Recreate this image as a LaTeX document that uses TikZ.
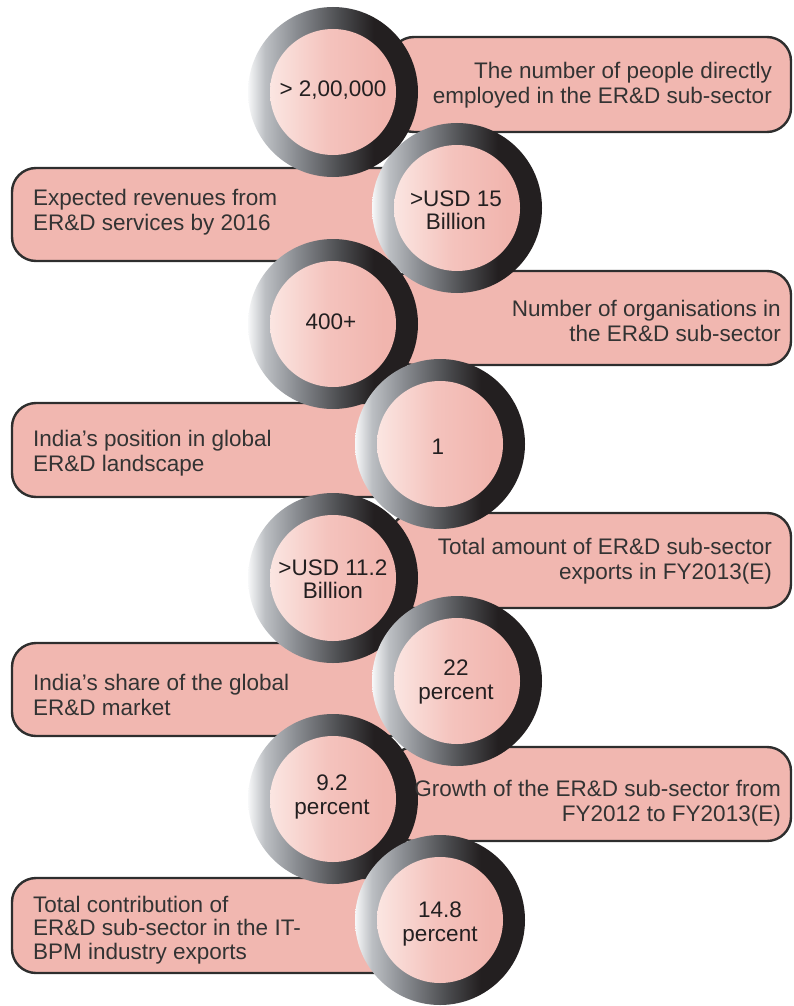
\documentclass[tikz,border=0pt]{standalone}
\usepackage{fontspec}
\setmainfont{Liberation Sans}

\definecolor{boxfill}{HTML}{F1B7B0}
\definecolor{boxline}{HTML}{2E2E2E}
\definecolor{boxtext}{HTML}{333333}
\definecolor{ringtext}{HTML}{231F20}
% ring metal gradient, light on the left, near black on the right
\definecolor{rg0}{HTML}{F7F8F9}
\definecolor{rg1}{HTML}{BCBFC3}
\definecolor{rg2}{HTML}{8A8D92}
\definecolor{rg3}{HTML}{4B4C4F}
\definecolor{rg4}{HTML}{231F20}
% pink core gradient
\definecolor{pk0}{HTML}{FBE6E2}
\definecolor{pk1}{HTML}{F4C3BD}
\definecolor{pk2}{HTML}{F1B5AE}

\pgfdeclarehorizontalshading{ringgrad}{100bp}{%
  color(0bp)=(rg0); color(25bp)=(rg0); color(30bp)=(rg1);
  color(39bp)=(rg2); color(52bp)=(rg3); color(62bp)=(rg4);
  color(100bp)=(rg4)}
\pgfdeclarehorizontalshading{pinkgrad}{100bp}{%
  color(0bp)=(pk0); color(25bp)=(pk0); color(48bp)=(pk1);
  color(70bp)=(pk2); color(100bp)=(pk2)}

\newcommand\infofont{\fontsize{22.5}{25}\selectfont}
\newcommand\ringfont{\fontsize{22.5}{23.5}\selectfont}

\begin{document}
\begin{tikzpicture}[x=1pt,y=-1pt,
  infobox/.style={draw=boxline, line width=2.4pt, fill=boxfill,
    rounded corners=24pt, inner sep=0pt},
  rightbox/.style={infobox, minimum width=401pt},
  leftbox/.style={infobox, minimum width=488pt},
  ring/.style={circle, inner sep=0pt, minimum size=170pt, shading=ringgrad},
  core/.style={circle, inner sep=0pt, minimum size=126pt, shading=pinkgrad},
  ringlabel/.style={align=center, text=ringtext, font=\ringfont, inner sep=0pt},
  rtxt/.style={anchor=east, align=right, text=boxtext, font=\infofont, inner sep=0pt},
  ltxt/.style={anchor=west, align=left, text=boxtext, font=\infofont, inner sep=0pt}]
\useasboundingbox (0,0) rectangle (793,1006);

% information boxes
\node[rightbox, minimum height=95pt] (b1) at (590.5,84.5) {};
\node[leftbox,  minimum height=93pt] (b2) at (256,214.5) {};
\node[rightbox, minimum height=94pt] (b3) at (590.5,318) {};
\node[leftbox,  minimum height=94pt] (b4) at (256,450) {};
\node[rightbox, minimum height=95pt] (b5) at (590.5,560.5) {};
\node[leftbox,  minimum height=93pt] (b6) at (256,689.5) {};
\node[rightbox, minimum height=94pt] (b7) at (590.5,794) {};
\node[leftbox,  minimum height=95pt] (b8) at (256,925.5) {};

% rings with their pink cores
\foreach \n/\x/\y in {1/333/92, 2/457/208, 3/333/324, 4/440/444,
                      5/333/578, 6/457/681, 7/333/799, 8/440/920} {
  \node[ring] (r\n) at (\x,\y) {};
  \node[core] (c\n) at (r\n.center) {};
}

% figures inside the rings
\node[ringlabel] (v1) at (333,90)  {> 2,00,000};
\node[ringlabel] (v2) at (456,210.5) {>USD 15\\Billion};
\node[ringlabel] (v3) at (331,322) {400+};
\node[ringlabel] (v4) at (438,447) {1};
\node[ringlabel] (v5) at (333,579) {>USD 11.2\\Billion};
\node[ringlabel] (v6) at (456,682) {22\\percent};
\node[ringlabel] (v7) at (332,797) {9.2\\percent};
\node[ringlabel] (v8) at (440,924) {14.8\\percent};

% descriptions
\node[rtxt] (d1) at (772,85.5)  {The number of people directly\\employed in the ER\&D sub-sector};
\node[ltxt] (d2) at (33,212)    {Expected revenues from\\ER\&D services by 2016};
\node[rtxt] (d3) at (781,321)   {Number of organisations in\\the ER\&D sub-sector};
\node[ltxt] (d4) at (33,453.5)  {India’s position in global\\ER\&D landscape};
\node[rtxt] (d5) at (772,561.5) {Total amount of ER\&D sub-sector\\exports in FY2013(E)};
\node[ltxt] (d6) at (33,694.5)  {India’s share of the global\\ER\&D market};
\node[rtxt] (d7) at (781,803.5) {Growth of the ER\&D sub-sector from\\FY2012 to FY2013(E)};
\node[ltxt, font=\fontsize{22.5}{23.5}\selectfont] (d8) at (33,930) {Total contribution of\\ER\&D sub-sector in the IT-\\BPM industry exports};
\end{tikzpicture}
\end{document}
